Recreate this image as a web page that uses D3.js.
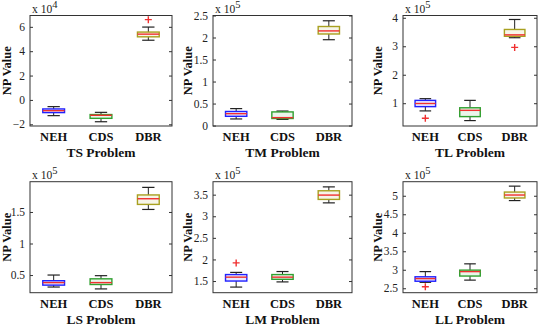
<!DOCTYPE html>
<html>
<head>
<meta charset="utf-8">
<script src="https://cdn.jsdelivr.net/npm/d3@7"></script>
<style>
  body { margin: 0; background: #fff; }
  svg text { font-family: "Liberation Serif", "DejaVu Serif", serif !important; }
</style>
</head>
<body>
<div class="chart"></div>
<script>
// box stats per method: [whiskerLow, q1, median, q3, whiskerHigh]
const methods = ['NEH', 'CDS', 'DBR'];
const problems = ['TS', 'TM', 'TL', 'LS', 'LM', 'LL'];
const exponents = [4, 5, 5, 5, 5, 5];

const tsStats = [[-1.29, -1.04, -0.88, -0.74, -0.55], [-1.79, -1.51, -1.26, -1.2, -1.02], [4.9, 5.18, 5.4, 5.57, 5.98]];
const tmStats = [[0.15, 0.21, 0.27, 0.32, 0.385], [0.14, 0.16, 0.18, 0.31, 0.33], [1.95, 2.08, 2.15, 2.25, 2.38]];
const tlStats = [[0.73, 0.88, 0.99, 1.1, 1.16], [0.39, 0.53, 0.75, 0.84, 1.1], [3.3, 3.35, 3.4, 3.59, 3.94]];
const lsStats = [[0.31, 0.34, 0.38, 0.41, 0.5], [0.28, 0.35, 0.38, 0.44, 0.49], [1.54, 1.62, 1.71, 1.77, 1.89]];
const lmStats = [[1.36, 1.5, 1.59, 1.65, 1.7], [1.48, 1.54, 1.59, 1.65, 1.72], [3.31, 3.39, 3.49, 3.59, 3.68]];
const llStats = [[2.66, 2.69, 2.76, 2.81, 2.95], [2.72, 2.83, 2.95, 2.99, 3.16], [4.87, 4.94, 5.02, 5.1, 5.26]];

// outliers: [methodIndex, value]
const tsOutliers = [[2, 6.59]];
const tmOutliers = [];
const tlOutliers = [[0, 0.47], [2, 2.96]];
const lsOutliers = [];
const lmOutliers = [[0, 1.92]];
const llOutliers = [[0, 2.54]];

const yDomains = [[-2.14, 6.93], [-0.01, 2.5], [0.2, 4.08], [0.22, 1.98], [1.23, 3.8], [2.38, 5.38]];
const yTicks = [[-2, 0, 2, 4, 6], [0, 0.5, 1, 1.5, 2, 2.5], [1, 2, 3, 4], [0.5, 1, 1.5], [1.5, 2, 2.5, 3, 3.5], [2.5, 3, 3.5, 4, 4.5, 5]];

const allStats = [tsStats, tmStats, tlStats, lsStats, lmStats, llStats];
const allOutliers = [tsOutliers, tmOutliers, tlOutliers, lsOutliers, lmOutliers, llOutliers];

const colors = ['#2020ff', '#30a030', '#a8a020'];
const serif = 'Liberation Serif';

const width = 550, height = 329;
const svg = d3.select('.chart')
    .append('svg')
    .attr('width', width)
    .attr('height', height)
    .attr('font-family', serif);

// axes rectangles per column / row
const cols = [[30, 172], [213, 352], [403, 537]];
const rows = [[15.5, 126], [181.7, 292.7]];

problems.forEach((p, i) => {
    const [x0, x1] = cols[i % 3];
    const [y0, y1] = rows[Math.floor(i / 3)];
    const stats = allStats[i];

    const xScale = d3.scaleLinear().domain([0.5, 3.5]).range([x0, x1]);
    const yScale = d3.scaleLinear().domain(yDomains[i]).range([y1, y0]);

    const g = svg.append('g');

    // frame
    g.append('rect')
        .attr('x', x0).attr('y', y0)
        .attr('width', x1 - x0).attr('height', y1 - y0)
        .attr('fill', 'none')
        .attr('stroke', '#333')
        .attr('stroke-width', 1);

    const yAxis = d3.axisLeft(yScale)
        .tickValues(yTicks[i])
        .tickSize(-3)
        .tickPadding(5)
        .tickFormat(d => d3.format('~g')(d));

    const ya = g.append('g')
        .attr('transform', `translate(${x0},0)`)
        .call(yAxis)
        .attr('font-family', serif);
    ya.select('.domain').remove();
    ya.selectAll('.tick line').attr('stroke', '#333');
    ya.selectAll('.tick text')
        .attr('font-size', 11.5)
        .attr('fill', '#222');

    const yaRight = g.append('g')
        .attr('transform', `translate(${x1},0)`)
        .call(d3.axisRight(yScale).tickValues(yTicks[i]).tickSize(-3).tickFormat(''));
    yaRight.select('.domain').remove();
    yaRight.selectAll('.tick line').attr('stroke', '#333');

    // exponent label
    const ex = g.append('text')
        .attr('x', x0 + 2)
        .attr('y', y0 - 3)
        .attr('font-size', 11.5)
        .attr('fill', '#222');
    ex.append('tspan').text('x 10');
    ex.append('tspan').attr('dy', -5).attr('font-size', 10.5).text(exponents[i]);

    // y label
    g.append('text')
        .attr('transform', `translate(${x0 - 19 - (i % 3 === 0 ? 0 : 2)},${(y0 + y1) / 2}) rotate(-90)`)
        .attr('text-anchor', 'middle')
        .attr('font-size', 12.5)
        .attr('font-weight', 'bold')
        .attr('fill', '#111')
        .text('NP Value');

    // category labels
    g.selectAll('.cat')
        .data(methods)
        .enter()
        .append('text')
        .attr('x', (d, j) => xScale(j + 1))
        .attr('y', y1 + 15)
        .attr('text-anchor', 'middle')
        .attr('font-size', 12.5)
        .attr('font-weight', 'bold')
        .attr('fill', '#111')
        .text(d => d);

    // title
    g.append('text')
        .attr('x', (x0 + x1) / 2)
        .attr('y', y1 + 31)
        .attr('text-anchor', 'middle')
        .attr('font-size', 13.5)
        .attr('font-weight', 'bold')
        .attr('fill', '#111')
        .text(p + ' Problem');

    const bw = 0.23, cw = 0.13;
    const boxes = g.selectAll('.box')
        .data(stats)
        .enter()
        .append('g');

    // whiskers
    boxes.append('line')
        .attr('x1', (d, j) => xScale(j + 1)).attr('x2', (d, j) => xScale(j + 1))
        .attr('y1', d => yScale(d[0])).attr('y2', d => yScale(d[1]))
        .attr('stroke', '#222').attr('stroke-width', 1);
    boxes.append('line')
        .attr('x1', (d, j) => xScale(j + 1)).attr('x2', (d, j) => xScale(j + 1))
        .attr('y1', d => yScale(d[3])).attr('y2', d => yScale(d[4]))
        .attr('stroke', '#222').attr('stroke-width', 1);
    [0, 4].forEach(k => {
        boxes.append('line')
            .attr('x1', (d, j) => xScale(j + 1 - cw)).attr('x2', (d, j) => xScale(j + 1 + cw))
            .attr('y1', d => yScale(d[k])).attr('y2', d => yScale(d[k]))
            .attr('stroke', '#222').attr('stroke-width', 1.2);
    });

    boxes.append('rect')
        .attr('x', (d, j) => xScale(j + 1 - bw))
        .attr('width', (d, j) => xScale(j + 1 + bw) - xScale(j + 1 - bw))
        .attr('y', d => yScale(d[3]))
        .attr('height', d => yScale(d[1]) - yScale(d[3]))
        .attr('fill', (d, j) => colors[j])
        .attr('fill-opacity', 0.1)
        .attr('stroke', (d, j) => colors[j])
        .attr('stroke-width', 1.4);

    boxes.append('line')
        .attr('x1', (d, j) => xScale(j + 1 - bw)).attr('x2', (d, j) => xScale(j + 1 + bw))
        .attr('y1', d => yScale(d[2])).attr('y2', d => yScale(d[2]))
        .attr('stroke', '#f03030').attr('stroke-width', 1.4);

    // outliers
    g.selectAll('.out')
        .data(allOutliers[i])
        .enter()
        .append('path')
        .attr('d', d => {
            const cx = xScale(d[0] + 1), cy = yScale(d[1]);
            return `M${cx - 3.5},${cy}H${cx + 3.5}M${cx},${cy - 3.5}V${cy + 3.5}`;
        })
        .attr('stroke', '#f03030')
        .attr('stroke-width', 1.4);
});
</script>
</body>
</html>
